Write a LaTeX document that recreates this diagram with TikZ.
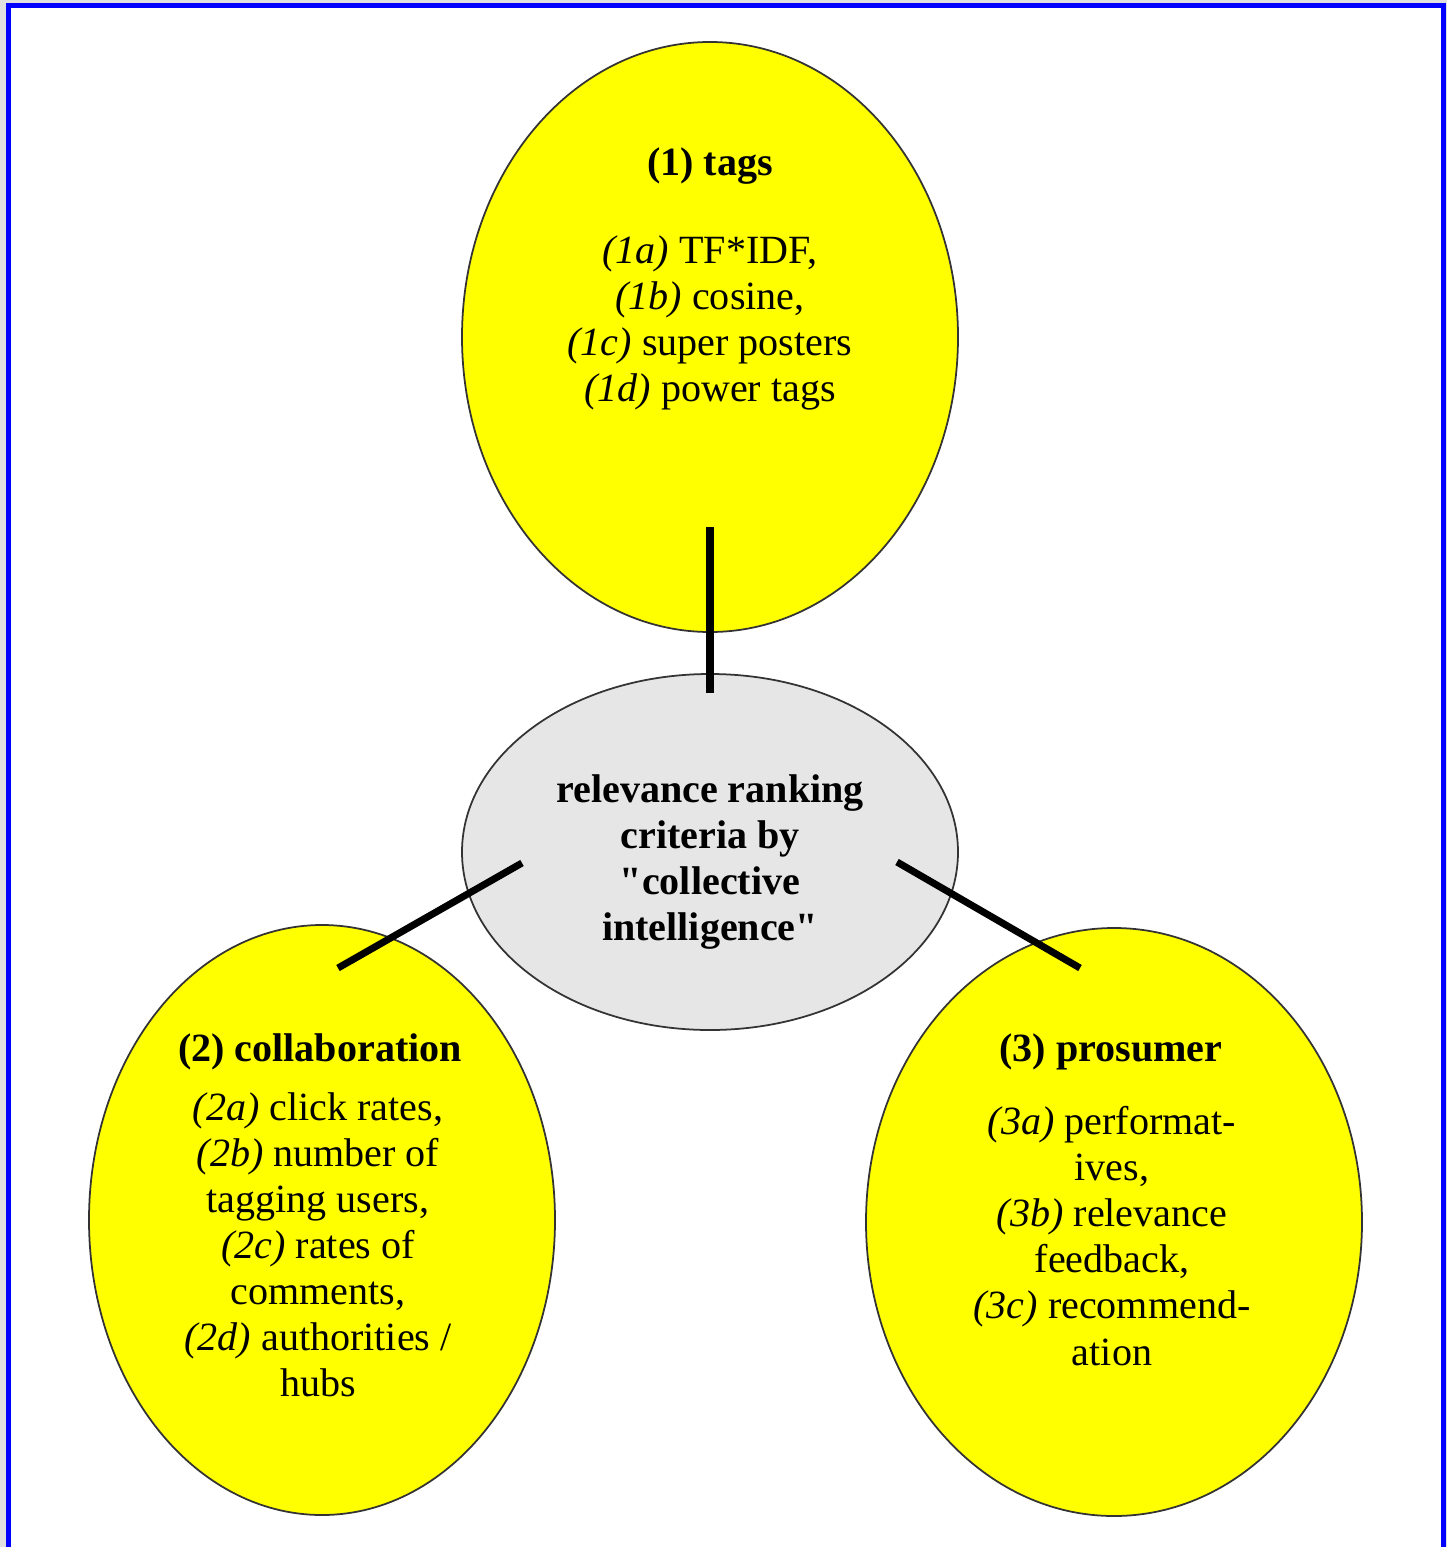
\documentclass[tikz,border=0pt]{standalone}
\usepackage{fontspec}
\setmainfont{Liberation Serif}
\usetikzlibrary{shapes.geometric}
\definecolor{frameblue}{HTML}{0000FF}
\definecolor{pagegray}{HTML}{E0E0E0}
\definecolor{hubgray}{HTML}{E6E6E6}
\definecolor{bubbleyellow}{HTML}{FFFF00}
\begin{document}
\begin{tikzpicture}[y=-1cm,
  bubble/.style={ellipse, draw=black!80, line width=0.5pt, fill=bubbleyellow, inner sep=0pt},
  hub/.style={ellipse, draw=black!80, line width=0.5pt, fill=hubgray, inner sep=0pt},
  txt/.style={align=center, inner sep=0pt, font=\fontsize{11.4}{13.1}\selectfont},
  head/.style={txt, font=\fontsize{11.4}{13.1}\selectfont\bfseries},
  link/.style={line width=2pt}
]
% page background and frame
\fill[pagegray] (0,0) rectangle (14.47,15.47);
\useasboundingbox (0,0) rectangle (14.47,15.47);
\fill[white] (0.08,0.06) rectangle (14.435,15.6);
\draw[frameblue, line width=0.5mm] (0.08,15.6) -- (0.08,0.06) -- (14.435,0.06) -- (14.435,15.6);

% bubbles
\node[bubble, minimum width=4.96cm, minimum height=5.90cm] (tags) at (7.10,3.37) {};
\node[hub, minimum width=4.96cm, minimum height=3.56cm] (hub) at (7.10,8.52) {};
\node[bubble, minimum width=4.66cm, minimum height=5.90cm] (collab) at (3.22,12.20) {};
\node[bubble, minimum width=4.96cm, minimum height=5.88cm] (prosumer) at (11.14,12.22) {};

% connectors
\coordinate (tagsEnd) at (7.10,5.27);
\coordinate (hubTop) at (7.10,6.93);
\coordinate (hubLeft) at (5.22,8.63);
\coordinate (collabEnd) at (3.38,9.68);
\coordinate (hubRight) at (8.97,8.62);
\coordinate (prosumerEnd) at (10.80,9.68);
\draw[link] (tagsEnd) -- (hubTop);
\draw[link] (hubLeft) -- (collabEnd);
\draw[link] (hubRight) -- (prosumerEnd);

% texts
\node[head] (tagsTitle) at (7.10,1.66) {(1) tags};
\node[txt] (tagsList) at (7.10,3.23) {\textit{(1a)} TF*IDF,\\ \textit{(1b)} cosine,\\ \textit{(1c)} super posters\\ \textit{(1d)} power tags};

\node[head] (hubText) at (7.10,8.62) {relevance ranking\\ criteria by\\ \textquotedbl collective\\ intelligence\textquotedbl};

\node[head] (collabTitle) at (3.20,10.52) {(2) collaboration};
\node[txt] (collabList) at (3.18,12.45) {\textit{(2a)} click rates,\\ \textit{(2b)} number of\\ tagging users,\\ \textit{(2c)} rates of\\ comments,\\ \textit{(2d)} authorities /\\ hubs};

\node[head] (prosumerTitle) at (11.11,10.52) {(3) prosumer};
\node[txt] (prosumerList) at (11.12,12.36) {\textit{(3a)} performat-\\ ives,\\ \textit{(3b)} relevance\\ feedback,\\ \textit{(3c)} recommend-\\ ation};
\end{tikzpicture}
\end{document}
